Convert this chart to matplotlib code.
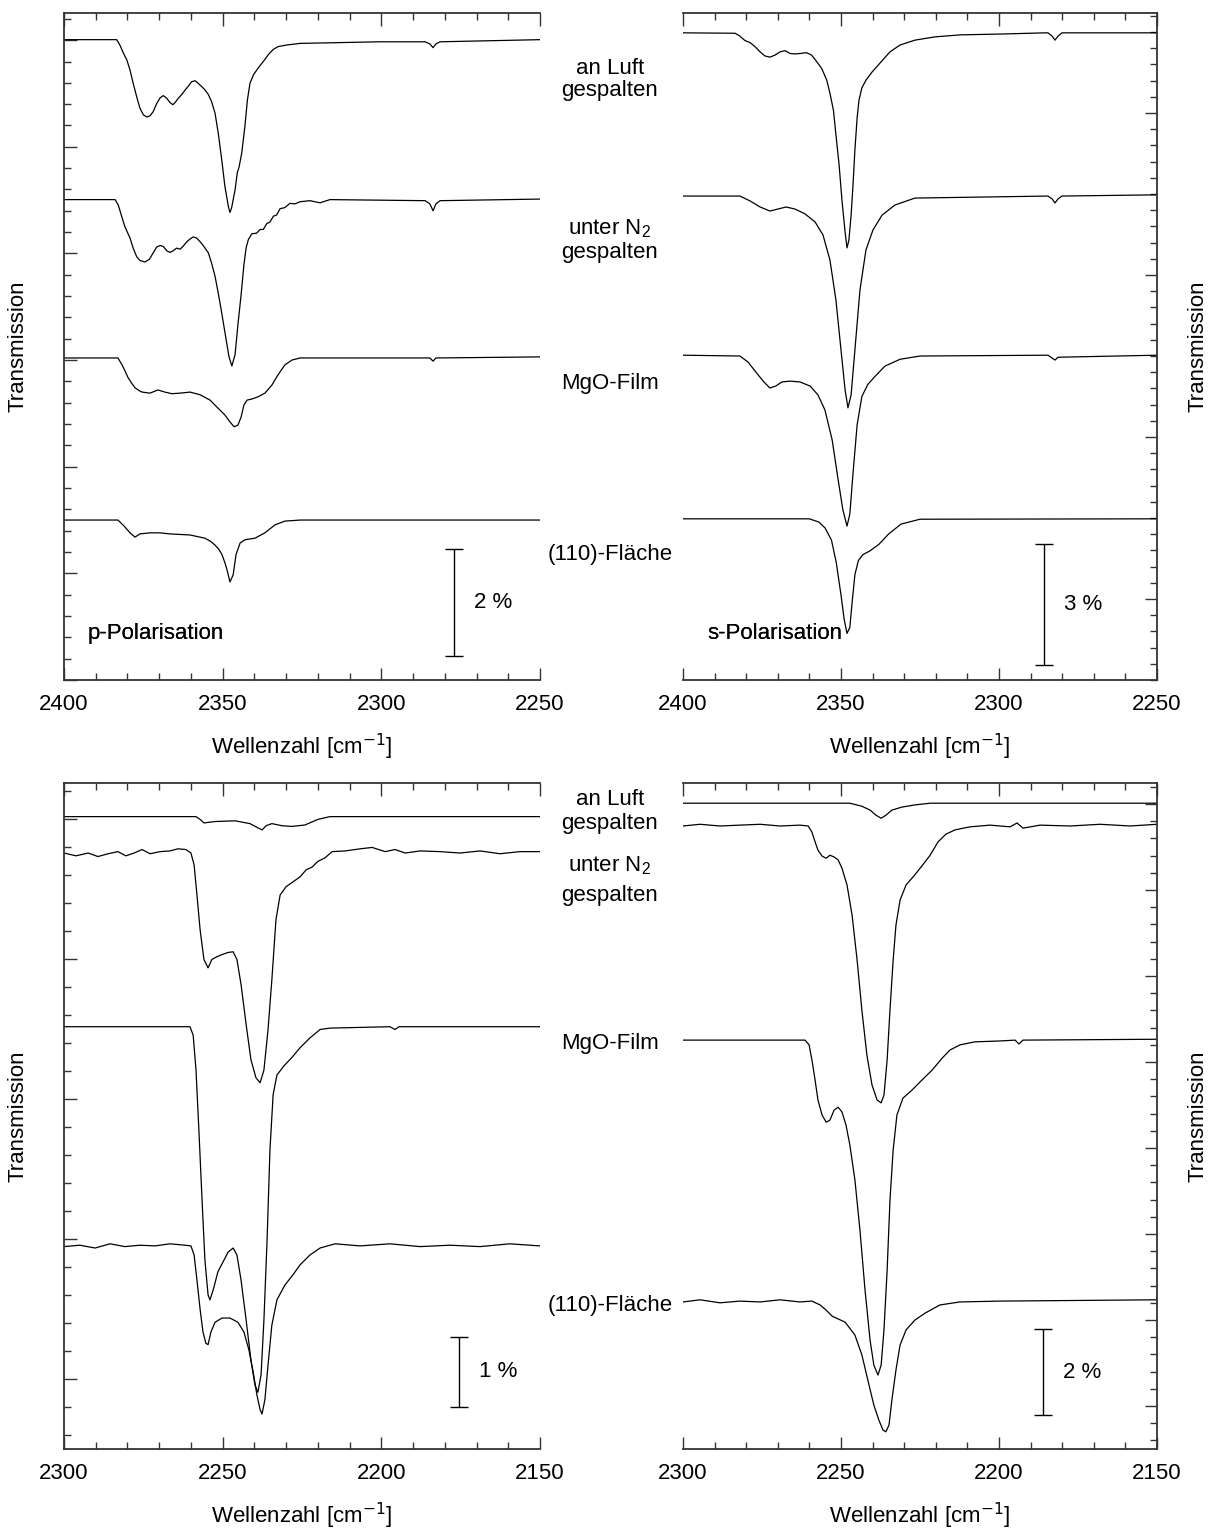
import matplotlib
matplotlib.use("Agg")
import matplotlib.pyplot as plt
from matplotlib.ticker import MultipleLocator

plt.rcParams['font.family'] = ['Liberation Sans', 'DejaVu Sans']
plt.rcParams['mathtext.fontset'] = 'custom'
plt.rcParams['mathtext.rm'] = 'Liberation Sans'
plt.rcParams['mathtext.it'] = 'Liberation Sans'

# ---------------- CO2 region (2400-2250 cm^-1), p-polarisation ----------------
p1_luft_wn = [2400, 2383.4, 2382.4, 2381.3, 2380.2, 2379.2, 2378.2, 2377.1, 2376.1, 2375.0, 2373.9,
              2372.9, 2371.9, 2370.8, 2369.7, 2368.7, 2367.6, 2366.6, 2365.7, 2365.0, 2364.0, 2362.9,
              2361.9, 2360.8, 2359.8, 2358.7, 2357.7, 2356.6, 2355.6, 2354.5, 2353.5, 2352.4, 2351.4,
              2350.3, 2349.3, 2348.2, 2347.7, 2347.2, 2346.1, 2345.4, 2344.8, 2344.0, 2343.0, 2342.2,
              2341.4, 2340.3, 2338.8, 2337.2, 2335.6, 2334.0, 2332.5, 2329.8, 2325.6, 2300.4, 2286.2,
              2284.7, 2283.7, 2282.8, 2281.5, 2250]
p1_luft_T = [12.01, 12.01, 11.91, 11.76, 11.63, 11.44, 11.19, 10.94, 10.73, 10.60, 10.56,
             10.58, 10.66, 10.81, 10.92, 10.96, 10.91, 10.83, 10.79, 10.83, 10.91, 10.98,
             11.06, 11.14, 11.22, 11.24, 11.19, 11.13, 11.07, 10.98, 10.85, 10.63, 10.26,
             9.76, 9.26, 8.88, 8.77, 8.85, 9.19, 9.51, 9.63, 9.88, 10.38, 10.88,
             11.19, 11.35, 11.48, 11.60, 11.73, 11.83, 11.88, 11.91, 11.94, 11.97, 11.97,
             11.93, 11.86, 11.93, 11.97, 12.01]

p1_n2_wn = [2400, 2383.9, 2382.9, 2381.8, 2380.8, 2379.2, 2378.2, 2377.1, 2376.1, 2374.5, 2373.1,
            2371.9, 2370.8, 2369.7, 2368.7, 2367.6, 2366.6, 2365.6, 2364.5, 2363.4, 2362.4, 2361.3,
            2360.3, 2359.3, 2358.2, 2357.1, 2355.9, 2354.5, 2353.5, 2352.4, 2351.4, 2350.2, 2348.9,
            2348.0, 2347.1, 2346.1, 2345.2, 2344.2, 2343.3, 2342.6, 2341.9, 2340.8, 2339.3, 2338.2,
            2337.2, 2336.1, 2335.1, 2334.0, 2333.0, 2331.9, 2330.4, 2328.8, 2327.2, 2325.6, 2322.5,
            2319.3, 2316.2, 2286.2, 2284.7, 2283.7, 2282.8, 2281.5, 2250]
p1_n2_T = [9.01, 9.01, 8.91, 8.69, 8.50, 8.29, 8.10, 7.94, 7.87, 7.84, 7.89,
           8.01, 8.12, 8.15, 8.13, 8.05, 8.02, 8.05, 8.10, 8.08, 8.14, 8.22,
           8.27, 8.31, 8.29, 8.22, 8.13, 8.01, 7.82, 7.57, 7.26, 6.85, 6.38,
           6.06, 5.89, 6.10, 6.66, 7.22, 7.79, 8.11, 8.26, 8.37, 8.38, 8.45,
           8.45, 8.56, 8.59, 8.70, 8.72, 8.84, 8.86, 8.94, 8.93, 8.97, 8.99,
           8.95, 9.01, 8.99, 8.93, 8.80, 8.93, 8.99, 9.02]

p1_mgo_wn = [2400, 2383.0, 2381.7, 2380.8, 2379.8, 2378.6, 2377.6, 2376.4, 2375.4, 2372.9, 2370.4,
             2368.2, 2366.0, 2363.4, 2360.3, 2357.1, 2354.0, 2351.5, 2349.3, 2347.7, 2346.4, 2345.2,
             2344.2, 2343.3, 2342.3, 2340.8, 2338.9, 2336.7, 2334.5, 2332.6, 2330.4, 2328.2, 2325.6,
             2284.7, 2283.7, 2282.8, 2250]
p1_mgo_T = [6.04, 6.04, 5.91, 5.80, 5.67, 5.56, 5.48, 5.43, 5.40, 5.38, 5.44,
            5.40, 5.37, 5.38, 5.40, 5.35, 5.25, 5.10, 4.97, 4.84, 4.75, 4.78,
            4.93, 5.16, 5.25, 5.27, 5.31, 5.38, 5.53, 5.72, 5.91, 6.00, 6.04,
            6.04, 5.98, 6.04, 6.06]

p1_110_wn = [2400, 2383.0, 2381.1, 2379.2, 2377.6, 2376.1, 2372.9, 2369.7, 2366.6, 2360.3, 2355.6,
             2353.8, 2352.4, 2351.2, 2350.2, 2349.3, 2348.6, 2347.7, 2346.7, 2345.8, 2344.5, 2343.0,
             2339.8, 2336.7, 2333.5, 2330.4, 2325.6, 2250]
p1_110_T = [3.00, 3.00, 2.89, 2.76, 2.68, 2.74, 2.76, 2.76, 2.74, 2.72, 2.66,
            2.60, 2.53, 2.45, 2.35, 2.20, 2.06, 1.84, 1.97, 2.35, 2.57, 2.63,
            2.66, 2.76, 2.91, 2.98, 3.00, 3.00]

# ---------------- CO2 region (2400-2250 cm^-1), s-polarisation ----------------
s1_luft_wn = [2400, 2383.5, 2382.0, 2380.4, 2378.8, 2377.2, 2375.6, 2374.1, 2372.5, 2370.9, 2369.3,
              2367.7, 2366.1, 2364.6, 2363.0, 2360.9, 2359.3, 2357.7, 2356.1, 2354.5, 2353.5, 2352.4,
              2351.6, 2350.6, 2349.7, 2348.7, 2348.1, 2347.5, 2346.8, 2346.2, 2345.6, 2344.9, 2344.3,
              2343.4, 2342.1, 2340.2, 2337.7, 2334.5, 2331.3, 2326.6, 2320.3, 2312.3, 2299.7, 2285.4,
              2284.5, 2283.2, 2282.3, 2281.3, 2280.1, 2250]
s1_luft_T = [15.98, 15.97, 15.90, 15.79, 15.74, 15.64, 15.51, 15.41, 15.38, 15.43, 15.51,
             15.54, 15.47, 15.46, 15.47, 15.49, 15.43, 15.27, 15.10, 14.81, 14.49, 14.07,
             13.46, 12.72, 11.85, 11.06, 10.67, 10.86, 11.48, 12.22, 13.09, 13.88, 14.32,
             14.62, 14.81, 15.01, 15.23, 15.51, 15.68, 15.80, 15.88, 15.93, 15.95, 15.98,
             15.98, 15.90, 15.80, 15.90, 15.98, 15.98]

s1_n2_wn = [2400, 2382.0, 2378.8, 2375.6, 2372.5, 2369.9, 2367.4, 2364.6, 2361.4, 2358.2, 2355.7,
            2353.5, 2351.6, 2350.0, 2348.7, 2347.8, 2346.8, 2345.6, 2344.0, 2342.1, 2339.9, 2337.0,
            2332.9, 2326.6, 2284.5, 2283.2, 2282.3, 2281.3, 2280.1, 2250]
s1_n2_T = [11.95, 11.95, 11.83, 11.68, 11.58, 11.63, 11.68, 11.63, 11.51, 11.31, 10.99,
           10.37, 9.38, 8.15, 7.16, 6.72, 7.04, 8.15, 9.63, 10.62, 11.11, 11.48,
           11.73, 11.90, 11.95, 11.88, 11.78, 11.88, 11.95, 11.98]

s1_mgo_wn = [2400, 2382.0, 2379.4, 2376.9, 2374.4, 2372.5, 2370.6, 2368.7, 2366.1, 2363.0, 2359.8,
             2357.3, 2355.1, 2352.8, 2350.9, 2349.4, 2348.1, 2347.2, 2346.2, 2344.9, 2343.4, 2341.5,
             2339.2, 2336.1, 2331.3, 2325.0, 2284.5, 2283.2, 2282.3, 2281.3, 2250]
s1_mgo_T = [8.02, 8.00, 7.85, 7.60, 7.36, 7.21, 7.26, 7.36, 7.38, 7.36, 7.26,
            7.04, 6.67, 5.93, 4.94, 4.20, 3.80, 4.10, 5.10, 6.30, 7.00, 7.30,
            7.50, 7.75, 7.92, 8.00, 8.02, 7.95, 7.90, 7.97, 8.02]

s1_110_wn = [2400, 2360.0, 2357.0, 2355.0, 2353.0, 2351.5, 2350.0, 2349.0, 2348.1, 2347.2, 2346.5,
             2345.6, 2344.5, 2343.0, 2341.0, 2338.0, 2335.0, 2331.0, 2325.0, 2250]
s1_110_T = [3.98, 3.98, 3.90, 3.75, 3.45, 2.90, 2.10, 1.50, 1.15, 1.30, 1.90,
            2.60, 2.95, 3.10, 3.18, 3.35, 3.60, 3.85, 3.97, 3.98]

# ---------------- CO region (2300-2150 cm^-1), p-polarisation ----------------
p2_luft_wn = [2300, 2258.4, 2257.1, 2255.9, 2252.4, 2246.1, 2241.4, 2238.9, 2237.6, 2236.3, 2234.5,
              2231.3, 2228.2, 2224.1, 2220.0, 2216.2, 2150]
p2_luft_T = [9.03, 9.03, 8.99, 8.94, 8.96, 8.97, 8.93, 8.87, 8.84, 8.90, 8.93,
             8.90, 8.89, 8.91, 8.99, 9.03, 9.03]

p2_n2_wn = [2300.0, 2296.2, 2292.4, 2289.3, 2286.1, 2283.0, 2280.5, 2277.9, 2275.4, 2272.9, 2269.7,
            2266.6, 2264.1, 2261.6, 2260.0, 2259.0, 2258.1, 2257.1, 2255.9, 2254.6, 2253.4, 2251.8,
            2250.2, 2248.3, 2246.7, 2245.5, 2244.2, 2242.6, 2241.1, 2239.5, 2238.2, 2237.0, 2235.7,
            2234.5, 2233.2, 2231.9, 2230.0, 2227.8, 2225.6, 2223.7, 2221.8, 2220.0, 2217.8, 2215.5,
            2211.4, 2206.7, 2202.9, 2198.8, 2195.7, 2192.5, 2187.8, 2181.5, 2175.2, 2168.9, 2162.6,
            2156.3, 2150.0]
p2_n2_T = [8.51, 8.47, 8.51, 8.46, 8.50, 8.53, 8.47, 8.51, 8.56, 8.50, 8.53,
           8.54, 8.57, 8.56, 8.51, 8.34, 7.91, 7.41, 6.99, 6.87, 6.99, 7.03,
           7.06, 7.09, 7.10, 6.99, 6.63, 6.06, 5.56, 5.30, 5.23, 5.41, 5.99,
           6.70, 7.56, 7.91, 8.03, 8.10, 8.17, 8.27, 8.31, 8.39, 8.44, 8.53,
           8.54, 8.57, 8.59, 8.53, 8.56, 8.51, 8.54, 8.53, 8.51, 8.54, 8.50,
           8.53, 8.53]

p2_mgo_wn = [2300, 2260.3, 2259.3, 2258.4, 2257.5, 2256.5, 2255.6, 2254.6, 2254.0, 2253.0, 2251.5,
             2249.9, 2248.3, 2246.7, 2245.5, 2244.2, 2242.6, 2241.1, 2239.8, 2238.9, 2237.9, 2237.0,
             2236.0, 2235.1, 2234.1, 2232.9, 2230.7, 2228.2, 2225.6, 2222.5, 2219.3, 2216.2, 2197.3,
             2195.7, 2194.4, 2150]
p2_mgo_T = [6.03, 6.03, 5.91, 5.41, 4.56, 3.56, 2.70, 2.20, 2.13, 2.27, 2.53,
            2.67, 2.81, 2.87, 2.77, 2.41, 1.84, 1.27, 0.91, 0.81, 1.06, 1.84,
            2.99, 4.27, 5.06, 5.34, 5.47, 5.59, 5.73, 5.87, 5.99, 6.01, 6.03,
            5.99, 6.03, 6.03]

p2_110_wn = [2300, 2295.0, 2290.2, 2285.5, 2280.8, 2276.1, 2271.3, 2266.6, 2261.9, 2260.0, 2259.0,
             2258.1, 2257.1, 2256.2, 2255.3, 2254.6, 2253.7, 2252.4, 2250.2, 2247.7, 2245.2, 2243.3,
             2241.7, 2240.4, 2239.2, 2238.2, 2237.6, 2236.7, 2235.7, 2234.5, 2232.9, 2230.4, 2227.8,
             2225.6, 2222.5, 2219.3, 2214.6, 2206.7, 2197.3, 2187.8, 2178.4, 2168.9, 2159.5, 2150]
p2_110_T = [2.89, 2.91, 2.87, 2.93, 2.89, 2.91, 2.90, 2.93, 2.91, 2.90, 2.77,
            2.41, 1.99, 1.67, 1.51, 1.49, 1.67, 1.81, 1.87, 1.87, 1.81, 1.67,
            1.41, 1.10, 0.77, 0.56, 0.50, 0.70, 1.20, 1.77, 2.13, 2.34, 2.49,
            2.63, 2.77, 2.87, 2.93, 2.90, 2.93, 2.89, 2.91, 2.89, 2.93, 2.90]

# ---------------- CO region (2300-2150 cm^-1), s-polarisation ----------------
s2_luft_wn = [2300, 2247.2, 2243.4, 2240.8, 2238.9, 2237.3, 2235.8, 2233.9, 2230.7, 2226.6, 2221.8, 2150]
s2_luft_T = [15.02, 15.02, 14.95, 14.86, 14.74, 14.67, 14.74, 14.86, 14.93, 14.98, 15.02, 15.02]

s2_n2_wn = [2300, 2294.6, 2288.3, 2282.0, 2275.6, 2269.3, 2263.0, 2260.4, 2259.2, 2258.2, 2257.3,
            2256.0, 2254.7, 2253.5, 2252.2, 2250.9, 2249.7, 2248.1, 2246.5, 2244.9, 2243.4, 2241.8,
            2240.2, 2238.6, 2237.3, 2236.4, 2235.4, 2234.5, 2233.5, 2232.6, 2231.3, 2229.4, 2226.9,
            2224.4, 2221.8, 2219.3, 2216.8, 2213.9, 2209.2, 2202.8, 2196.5, 2194.3, 2192.4, 2187.0,
            2177.5, 2168.0, 2158.5, 2150]
s2_n2_T = [14.49, 14.53, 14.49, 14.51, 14.53, 14.49, 14.51, 14.49, 14.35, 14.12, 13.93,
           13.79, 13.74, 13.81, 13.77, 13.70, 13.51, 13.12, 12.42, 11.37, 10.21, 9.16,
           8.47, 8.12, 8.05, 8.23, 9.05, 10.21, 11.37, 12.19, 12.77, 13.12, 13.33,
           13.56, 13.81, 14.12, 14.30, 14.40, 14.47, 14.51, 14.47, 14.56, 14.44, 14.51,
           14.49, 14.53, 14.49, 14.53]

s2_mgo_wn = [2300, 2261.4, 2260.1, 2259.2, 2258.2, 2257.3, 2256.0, 2254.7, 2253.5, 2252.2, 2250.9,
             2249.7, 2248.4, 2247.2, 2245.6, 2244.0, 2242.4, 2240.8, 2239.6, 2238.3, 2237.3, 2236.4,
             2235.4, 2234.5, 2233.5, 2232.3, 2230.4, 2227.5, 2224.4, 2221.2, 2218.0, 2215.5, 2212.3,
             2207.6, 2199.7, 2194.9, 2193.7, 2192.4, 2150]
s2_mgo_T = [9.51, 9.51, 9.40, 9.05, 8.58, 8.12, 7.77, 7.60, 7.65, 7.88, 7.95,
            7.84, 7.53, 7.07, 6.26, 5.09, 3.70, 2.53, 1.95, 1.72, 1.95, 2.77,
            4.16, 5.79, 6.95, 7.77, 8.16, 8.35, 8.58, 8.81, 9.09, 9.28, 9.40,
            9.47, 9.49, 9.51, 9.42, 9.51, 9.53]

s2_110_wn = [2300, 2294.6, 2288.3, 2282.0, 2275.6, 2269.3, 2263.0, 2259.2, 2256.6, 2254.7, 2252.8,
             2248.7, 2245.6, 2243.4, 2241.5, 2239.6, 2238.0, 2236.7, 2235.8, 2234.8, 2233.9, 2232.6,
             2231.3, 2229.4, 2226.6, 2223.4, 2218.7, 2212.4, 2199.7, 2150]
s2_110_T = [3.42, 3.47, 3.40, 3.44, 3.42, 3.47, 3.42, 3.44, 3.35, 3.23, 3.09,
            2.95, 2.65, 2.19, 1.60, 1.02, 0.67, 0.44, 0.40, 0.56, 1.14, 1.84,
            2.42, 2.77, 3.00, 3.16, 3.35, 3.42, 3.44, 3.47]

panels = [
    dict(rect=(64, 13, 540, 680), xlim=(2400, 2250), ylim=(0, 12.51), side='left',
         ymajor=(2, 0), yminor=(0.4, 0),
         traces=[(p1_luft_wn, p1_luft_T), (p1_n2_wn, p1_n2_T), (p1_mgo_wn, p1_mgo_T), (p1_110_wn, p1_110_T)],
         bar=(2277.1, 0.45, 2), pol='p-Polarisation'),
    dict(rect=(683, 13, 1157, 680), xlim=(2400, 2250), ylim=(0, 16.47), side='right',
         ymajor=(4, 2), yminor=(0.4, 0),
         traces=[(s1_luft_wn, s1_luft_T), (s1_n2_wn, s1_n2_T), (s1_mgo_wn, s1_mgo_T), (s1_110_wn, s1_110_T)],
         bar=(2285.8, 0.37, 3), pol='s-Polarisation'),
    dict(rect=(64, 783, 540, 1449), xlim=(2300, 2150), ylim=(0, 9.51), side='left',
         ymajor=(2, 1), yminor=(0.4, 0.2),
         traces=[(p2_luft_wn, p2_luft_T), (p2_n2_wn, p2_n2_T), (p2_mgo_wn, p2_mgo_T), (p2_110_wn, p2_110_T)],
         bar=(2175.5, 0.6, 1), pol='p-Polarisation'),
    dict(rect=(683, 783, 1157, 1449), xlim=(2300, 2150), ylim=(0, 15.49), side='right',
         ymajor=(2, 1), yminor=(0.4, 0.2),
         traces=[(s2_luft_wn, s2_luft_T), (s2_n2_wn, s2_n2_T), (s2_mgo_wn, s2_mgo_T), (s2_110_wn, s2_110_T)],
         bar=(2186.1, 0.79, 2), pol='s-Polarisation'),
]

W, H = 1216, 1530
fig = plt.figure(figsize=(W / 100, H / 100), dpi=100)
FS = 16
spine_c = '#333333'


def fx(px):
    return px / W


def fy(py):
    return 1 - py / H


for p in panels:
    l, t, r, b = p['rect']
    ax = fig.add_axes([fx(l), fy(b), (r - l) / W, (b - t) / H])
    for wn, T in p['traces']:
        ax.plot(wn, T, color='black', lw=0.9)
    ax.set_xlim(*p['xlim'])
    ax.set_ylim(*p['ylim'])
    ax.xaxis.set_major_locator(MultipleLocator(50))
    ax.xaxis.set_minor_locator(MultipleLocator(10))
    ax.yaxis.set_major_locator(MultipleLocator(*p['ymajor']))
    ax.yaxis.set_minor_locator(MultipleLocator(*p['yminor']))
    if p['side'] == 'left':
        ax.spines['right'].set_visible(False)
        ax.tick_params(axis='y', which='both', left=True, right=False, labelleft=False)
    else:
        ax.spines['left'].set_visible(False)
        ax.tick_params(axis='y', which='both', left=False, right=True, labelleft=False, labelright=False)
    for s in ax.spines.values():
        s.set_linewidth(1.3)
        s.set_color(spine_c)
    ax.tick_params(axis='x', which='both', top=True, bottom=True)
    ax.tick_params(which='both', direction='in', color=spine_c, width=1.0)
    ax.tick_params(which='major', length=9)
    ax.tick_params(which='minor', length=5)
    ax.tick_params(axis='x', which='major', labelsize=FS, pad=10)
    ax.set_xlabel(r'Wellenzahl [cm$^{\mathsf{-1}}$]', fontsize=FS, labelpad=12.5)

    # percentage scale bar with its label
    bx, by0, bh = p['bar']
    span = p['xlim'][0] - p['xlim'][1]
    ax.errorbar([bx], [by0 + bh / 2], yerr=[[bh / 2], [bh / 2]], color='black',
                elinewidth=1.0, capthick=1.0, capsize=6.5)
    ax.text(bx - 20 * span / (r - l), by0 + bh / 2, f'{bh} %',
            fontsize=FS, va='center', ha='left')
    ax.text(24 / (r - l), (b - 639) / (b - t), p['pol'], transform=ax.transAxes,
            fontsize=FS, va='baseline', ha='left')

# vertical axis titles
for xpx, ypx in [(18, 346), (1198, 346), (18, 1116), (1198, 1116)]:
    fig.text(fx(xpx), fy(ypx), 'Transmission', rotation=90, fontsize=FS, ha='center', va='center')

# sample labels between the panels
labels = [
    ('an Luft', 74), ('gespalten', 96), (r'unter N$_2$', 234), ('gespalten', 258),
    ('MgO-Film', 389), ('(110)-Fläche', 560),
    ('an Luft', 805), ('gespalten', 829), (r'unter N$_2$', 871), ('gespalten', 901),
    ('MgO-Film', 1049), ('(110)-Fläche', 1311),
]
for txt, ypx in labels:
    fig.text(fx(610), fy(ypx), txt, fontsize=FS, ha='center', va='baseline')

fig.savefig('out.png', dpi=100)
